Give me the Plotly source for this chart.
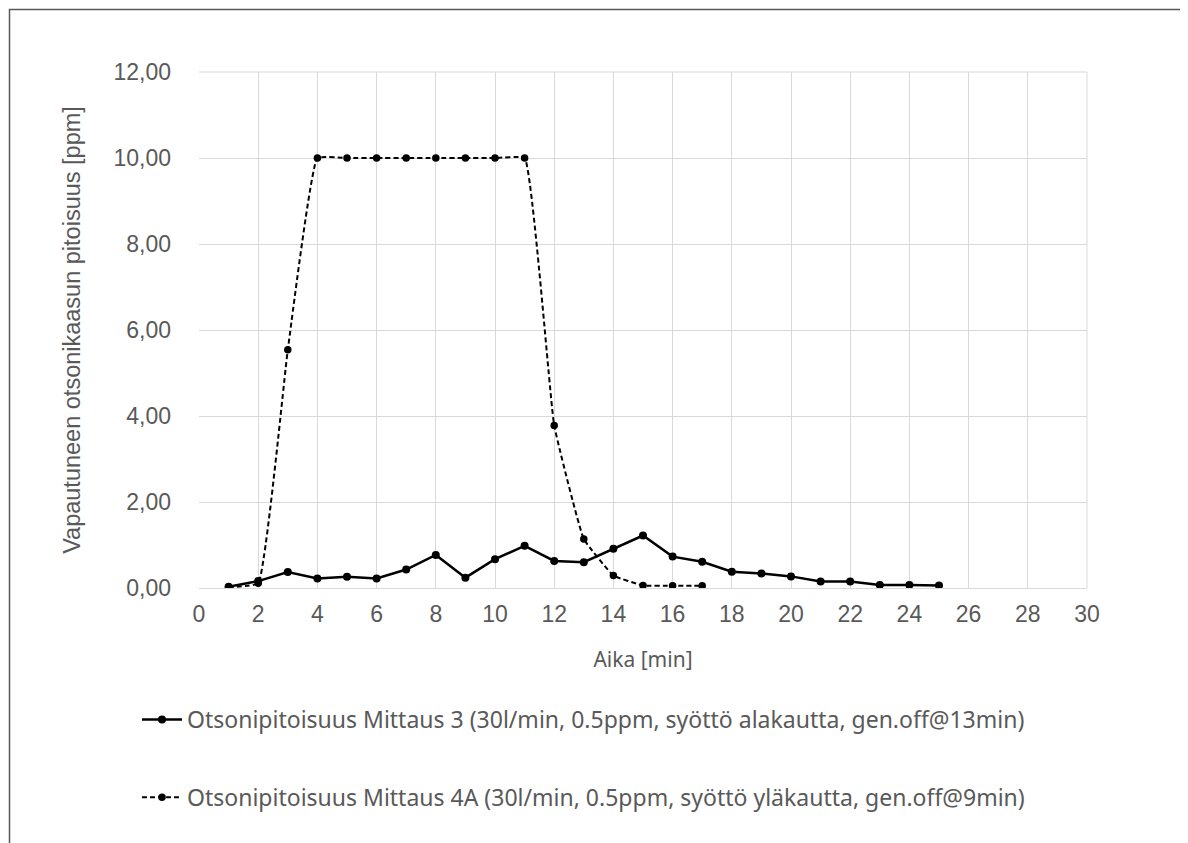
import plotly.graph_objects as go

time_min = list(range(1, 26))
mittaus3 = [0.03, 0.16, 0.37, 0.22, 0.26, 0.22, 0.43, 0.77, 0.24, 0.67, 0.98, 0.63, 0.60,
            0.91, 1.22, 0.73, 0.61, 0.38, 0.34, 0.27, 0.15, 0.15, 0.07, 0.07, 0.06]
time_4a = list(range(1, 18))
mittaus4a = [0.02, 0.11, 5.54, 10.0, 10.0, 10.0, 10.0, 10.0, 10.0, 10.0, 10.0, 3.78, 1.14,
             0.29, 0.06, 0.05, 0.05]

name3 = "Otsonipitoisuus Mittaus 3 (30l/min, 0.5ppm, syöttö alakautta, gen.off@13min)"
name4a = "Otsonipitoisuus Mittaus 4A (30l/min, 0.5ppm, syöttö yläkautta, gen.off@9min)"

FONT_TXT = "Noto Sans"
FONT_NUM = "Liberation Sans"
GRAY = "#595959"

fig = go.Figure()
fig.add_trace(go.Scatter(
    x=time_min, y=mittaus3, name=name3, mode="lines+markers", legendgroup="a",
    line=dict(color="black", width=2.5),
    marker=dict(color="black", size=8, symbol="circle"),
))
fig.add_trace(go.Scatter(
    x=time_4a, y=mittaus4a, name=name4a, mode="lines+markers", legendgroup="b",
    line=dict(color="black", width=2, dash="5px,3px", shape="spline", smoothing=0.3),
    marker=dict(color="black", size=7.5, symbol="circle"),
))

# page offset of 8px (body margin)
OFF = 8
FW, FH = 1188 - OFF, 843 - OFF
L, R, T, B = 199, 1087, 72, 588  # page pixels of the plot area
W, H = R - L, B - T

fig.update_layout(
    width=FW, height=FH,
    margin=dict(l=L - OFF, r=FW - (R - OFF), t=T - OFF, b=FH - (B - OFF), autoexpand=False),
    paper_bgcolor="white", plot_bgcolor="white",
    separators=",.",
    font=dict(family=FONT_TXT, color=GRAY, size=16),
    xaxis=dict(
        range=[0, 30], dtick=2, tick0=0, showgrid=True, gridcolor="#d9d9d9", gridwidth=1,
        showline=True, linecolor="#d9d9d9", linewidth=1, zeroline=False, ticks="",
        tickfont=dict(family=FONT_NUM, size=23, color=GRAY), ticklabelstandoff=5,
        title=dict(text="Aika [min]", font=dict(family=FONT_TXT, size=21, color=GRAY), standoff=26),
        fixedrange=True,
    ),
    yaxis=dict(
        range=[0, 12], dtick=2, tick0=0, tickformat=".2f", showgrid=True,
        gridcolor="#d9d9d9", gridwidth=1, zeroline=False, ticks="",
        showline=False,
        tickfont=dict(family=FONT_NUM, size=23, color=GRAY), ticklabelstandoff=27,
        title=dict(text="Vapautuneen otsonikaasun pitoisuus [ppm]",
                   font=dict(family=FONT_NUM, size=23.5, color=GRAY), standoff=26),
        fixedrange=True,
    ),
    showlegend=True,
    legend=dict(
        orientation="v", x=(137 - L) / W, xanchor="left", y=(B - 698) / H, yanchor="top",
        font=dict(family=FONT_TXT, size=23, color=GRAY), tracegroupgap=45, itemwidth=40,
        bgcolor="rgba(0,0,0,0)",
    ),
    shapes=[
        dict(type="line", xref="paper", yref="paper", x0=1, x1=1, y0=0, y1=1,
             line=dict(color="#d9d9d9", width=1)),
        dict(type="line", xref="paper", yref="paper", x0=0, x1=1, y0=1, y1=1,
             line=dict(color="#d9d9d9", width=1)),
        dict(type="rect", xref="paper", yref="paper",
             x0=(9.5 - L) / W, x1=(1220 - L) / W, y0=(B - 880) / H, y1=1 + (T - 9.5) / H,
             line=dict(color="#595959", width=1.5), fillcolor="rgba(0,0,0,0)", layer="below"),
    ],
)

fig.write_html("out.html")
